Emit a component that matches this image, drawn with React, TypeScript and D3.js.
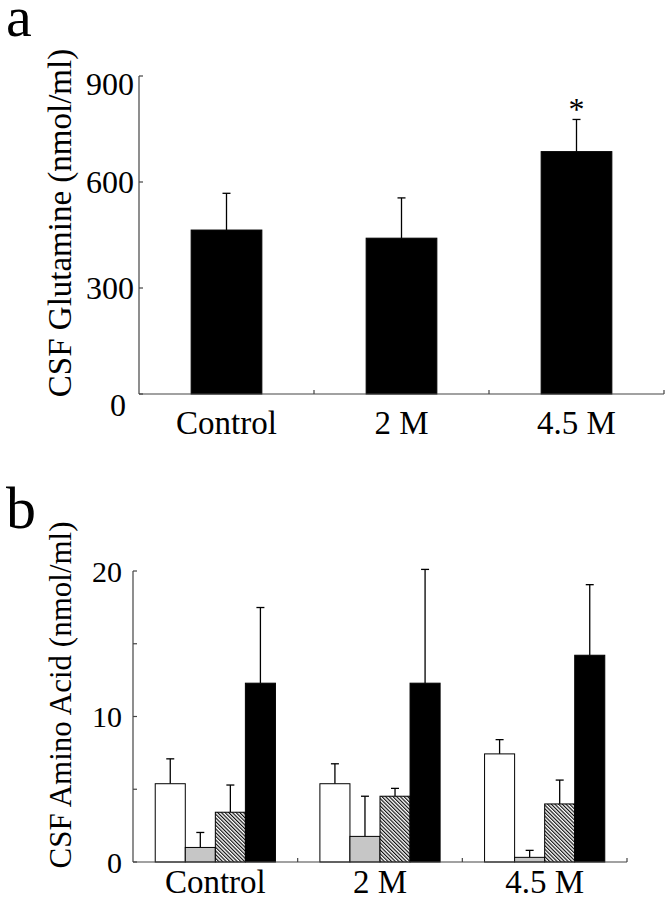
import React from "react";
import * as d3 from "d3";

const categories = ["Control", "2 M", "4.5 M"];

// Panel a: CSF glutamine
const glutamineMean = [464, 441, 686];
const glutamineErr = [104, 114, 91];
const glutamineTicks = [0, 300, 600, 900];
const glutamineSignificant = [false, false, true];

// Panel b: CSF amino acids (four series)
const aminoSeries = ["open", "gray", "hatched", "black"];
const aminoMean = [
  [5.38, 5.38, 7.43],
  [1.0, 1.76, 0.32],
  [3.42, 4.52, 3.99],
  [12.29, 12.29, 14.21],
];
const aminoErr = [
  [1.71, 1.37, 0.98],
  [1.03, 2.76, 0.48],
  [1.87, 0.54, 1.64],
  [5.2, 7.82, 4.85],
];
const aminoTicks = [0, 5, 10, 15, 20];
const aminoTickLabels = [0, 10, 20];

const FONT = "'Liberation Serif', 'Times New Roman', serif";
const AXIS = "#444";

const fills = ["#ffffff", "#c6c6c6", "url(#hatch)", "#000000"];

export default function App() {
  // Panel a scales
  const xa = d3.scaleBand<string>().domain(categories).range([139, 664]).padding(0);
  const ya = d3.scaleLinear().domain([0, 900]).range([394, 76]);
  const barFracA = 0.404;

  // Panel b scales
  const xb = d3.scaleBand<string>().domain(categories).range([133, 627]).padding(0);
  const yb = d3.scaleLinear().domain([0, 20]).range([862, 571]);
  const groupFrac = 0.73;
  const xinner = d3
    .scaleBand<string>()
    .domain(aminoSeries)
    .range([0, xb.bandwidth() * groupFrac])
    .padding(0);
  const groupOffset = (xb.bandwidth() * (1 - groupFrac)) / 2;

  const cap = 4;
  const tickLen = 4;

  const boundariesA = categories.map((c) => (xa(c) as number) + xa.bandwidth());
  const boundariesB = categories.map((c) => (xb(c) as number) + xb.bandwidth());

  return (
    <svg
      width={668}
      height={899}
      style={{ position: "absolute", left: 0, top: 0, background: "#fff" }}
      fontFamily={FONT}
    >
      <defs>
        <pattern
          id="hatch"
          width={2.6}
          height={10}
          patternUnits="userSpaceOnUse"
          patternTransform="rotate(-45)"
        >
          <rect width={2.6} height={10} fill="#fff" />
          <line x1={0.6} y1={0} x2={0.6} y2={10} stroke="#000" strokeWidth={1.1} />
        </pattern>
      </defs>

      {/* Panel letters */}
      <text x={6} y={36} fontSize={58}>a</text>
      <text x={6} y={528} fontSize={60}>b</text>

      {/* ---------- Panel a ---------- */}
      <text
        transform={`translate(71, ${223}) rotate(-90)`}
        textAnchor="middle"
        fontSize={33}
      >
        CSF Glutamine (nmol/ml)
      </text>

      {/* bars */}
      {categories.map((c, i) => {
        const bw = xa.bandwidth() * barFracA;
        const x0 = (xa(c) as number) + (xa.bandwidth() - bw) / 2;
        const cx = x0 + bw / 2;
        const top = ya(glutamineMean[i]);
        const errTop = ya(glutamineMean[i] + glutamineErr[i]);
        return (
          <g key={c}>
            <line x1={cx} x2={cx} y1={top} y2={errTop} stroke="#000" strokeWidth={1.3} />
            <line x1={cx - cap} x2={cx + cap} y1={errTop} y2={errTop} stroke="#000" strokeWidth={1.3} />
            <rect x={x0} y={top} width={bw} height={ya(0) - top} fill="#000" stroke="#000" strokeWidth={1} />
            {glutamineSignificant[i] && (
              <text x={cx} y={120} textAnchor="middle" fontSize={32}>*</text>
            )}
          </g>
        );
      })}

      {/* axes a */}
      <line x1={139} x2={139} y1={ya(900)} y2={ya(0)} stroke={AXIS} strokeWidth={1.2} />
      <line x1={139} x2={664} y1={ya(0)} y2={ya(0)} stroke={AXIS} strokeWidth={1.2} />
      {glutamineTicks.map((t, i) => {
        const last = i === glutamineTicks.length - 1;
        const first = i === 0;
        return (
          <g key={t}>
            <line x1={139} x2={139 + tickLen} y1={ya(t)} y2={ya(t)} stroke={AXIS} strokeWidth={1.2} />
            <text
              x={first ? 126 : 134}
              y={ya(t)}
              dy={first ? "0.7em" : last ? "0.6em" : "0.35em"}
              textAnchor="end"
              fontSize={32}
            >
              {t}
            </text>
          </g>
        );
      })}
      {boundariesA.map((b, i) => (
        <line key={i} x1={b} x2={b} y1={ya(0)} y2={ya(0) - tickLen} stroke={AXIS} strokeWidth={1.2} />
      ))}
      {categories.map((c) => (
        <text
          key={c}
          x={(xa(c) as number) + xa.bandwidth() / 2}
          y={434}
          textAnchor="middle"
          fontSize={33}
        >
          {c}
        </text>
      ))}

      {/* ---------- Panel b ---------- */}
      <text
        transform={`translate(71, ${695}) rotate(-90)`}
        textAnchor="middle"
        fontSize={31}
      >
        CSF Amino Acid (nmol/ml)
      </text>

      {categories.map((c, ci) => (
        <g key={c}>
          {aminoSeries.map((s, si) => {
            const bw = xinner.bandwidth();
            const x0 = (xb(c) as number) + groupOffset + (xinner(s) as number);
            const cx = x0 + bw / 2;
            const top = yb(aminoMean[si][ci]);
            const errTop = yb(aminoMean[si][ci] + aminoErr[si][ci]);
            return (
              <g key={s}>
                <line x1={cx} x2={cx} y1={top} y2={errTop} stroke="#000" strokeWidth={1.3} />
                <line x1={cx - cap} x2={cx + cap} y1={errTop} y2={errTop} stroke="#000" strokeWidth={1.3} />
                <rect
                  x={x0}
                  y={top}
                  width={bw}
                  height={yb(0) - top}
                  fill={fills[si]}
                  stroke="#000"
                  strokeWidth={1}
                />
              </g>
            );
          })}
        </g>
      ))}

      {/* axes b */}
      <line x1={133} x2={133} y1={yb(20)} y2={yb(0)} stroke={AXIS} strokeWidth={1.2} />
      <line x1={133} x2={627} y1={yb(0)} y2={yb(0)} stroke={AXIS} strokeWidth={1.2} />
      {aminoTicks.map((t) => (
        <line key={t} x1={133} x2={133 + tickLen} y1={yb(t)} y2={yb(t)} stroke={AXIS} strokeWidth={1.2} />
      ))}
      {aminoTickLabels.map((t) => (
        <text key={t} x={122} y={yb(t)} dy="0.35em" textAnchor="end" fontSize={30}>
          {t}
        </text>
      ))}
      {boundariesB.map((b, i) => (
        <line key={i} x1={b} x2={b} y1={yb(0)} y2={yb(0) - tickLen} stroke={AXIS} strokeWidth={1.2} />
      ))}
      {categories.map((c) => (
        <text
          key={c}
          x={(xb(c) as number) + xb.bandwidth() / 2}
          y={893}
          textAnchor="middle"
          fontSize={33}
        >
          {c}
        </text>
      ))}
    </svg>
  );
}
